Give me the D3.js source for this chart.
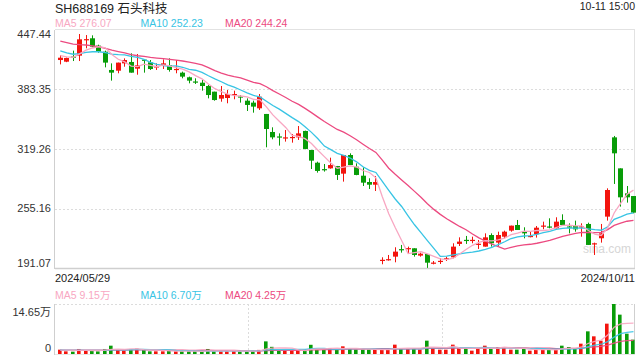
<!DOCTYPE html>
<html><head><meta charset="utf-8">
<script src="https://cdn.jsdelivr.net/npm/d3@7/dist/d3.min.js"></script>
<style>
body{margin:0;background:#fff}
svg{display:block}
text{font-family:"Liberation Sans",Arial,"Noto Sans CJK SC",sans-serif}
</style>
</head><body>
<svg id="chart" width="640" height="360"></svg>
<script>
const title = "SH688169 石头科技";
const timeLabel = "10-11 15:00";
const dateLabels = ["2024/05/29", "2024/10/11"];
const priceTicks = [447.44, 383.35, 319.26, 255.16, 191.07];
const volTicks = [14.65, 0];
const volTickLabels = ["14.65万", "0"];
const maNames = ["MA5", "MA10", "MA20"];
const maPeriods = [5, 10, 20];
const maPriceText = ["276.07", "252.23", "244.24"];
const maVolText = ["9.15万", "6.70万", "4.25万"];
const watermark = "sina.com";

const open = [415.1,413.3,418.9,419.8,436.5,438.5,430.6,424.1,404.4,403.6,
411.5,413.0,405.8,415.5,412.6,407.8,409.7,409.7,404.8,401.5,
396.5,392.0,390.7,387.1,381.0,373.5,374.2,378.0,375.9,371.3,
369.2,363.1,357.0,337.6,332.8,331.4,331.6,331.8,338.7,318.2,
304.5,297.6,298.4,300.9,292.7,312.8,300.2,290.5,283.7,280.8,
199.4,200.2,203.3,211.4,212.0,212.3,204.4,206.2,196.6,198.4,
201.2,202.6,217.0,221.4,221.0,216.7,214.1,226.6,218.4,224.8,
231.3,237.4,230.9,224.8,227.4,236.3,235.8,233.8,242.8,235.8,
236.3,235.5,238.5,217.2,223.1,246.4,331.8,298.4,271.5,268.6];
const close = [417.6,417.3,418.5,437.4,437.6,429.5,424.1,412.3,401.5,412.3,
415.1,401.5,409.4,414.8,405.4,408.3,411.5,404.4,405.5,397.2,
392.9,391.6,387.1,377.4,372.0,377.4,378.5,378.5,375.4,366.7,
364.9,375.6,340.8,331.8,332.5,331.8,332.2,336.1,319.3,306.7,
295.6,297.3,302.0,291.3,312.8,302.0,291.3,283.0,280.8,283.7,
199.9,200.6,208.7,210.9,212.5,205.1,206.5,196.8,196.9,198.8,
201.6,214.1,219.5,221.0,221.4,217.2,224.1,217.7,226.6,230.2,
236.7,232.0,228.4,225.6,234.5,236.8,235.6,241.0,237.4,235.6,
232.7,236.0,215.9,217.7,228.4,275.1,314.6,267.2,267.2,250.7];
const high = [420.2,417.8,425.2,443.1,442.0,441.7,431.6,425.2,411.5,412.3,
416.9,422.3,421.6,415.8,415.1,411.5,415.8,416.9,415.1,402.6,
397.2,395.4,393.6,388.2,381.0,387.1,382.8,382.1,377.4,373.8,
371.3,378.5,357.0,342.6,336.1,339.7,335.4,344.0,339.0,318.2,
305.6,303.1,309.9,301.0,312.8,314.6,303.8,299.5,287.7,290.2,
202.6,205.1,213.4,215.9,214.1,212.3,207.6,206.2,198.6,201.5,
203.3,217.7,224.1,225.6,224.8,221.2,228.4,228.4,230.2,231.3,
236.7,242.8,234.9,230.2,236.3,241.0,244.6,245.7,248.9,239.2,
242.1,239.2,239.9,218.4,238.5,276.9,333.3,298.4,279.4,268.6];
const low = [410.4,412.8,414.0,414.0,427.7,428.8,423.0,407.2,392.9,400.8,
407.9,401.5,399.3,401.5,404.4,404.4,405.4,402.6,400.8,395.4,
390.0,389.3,382.1,373.8,371.3,370.2,368.5,372.8,369.2,360.2,
358.4,361.3,321.1,329.7,322.9,327.2,326.1,329.0,319.0,297.7,
293.8,294.9,298.0,285.9,284.1,302.0,291.0,279.4,276.2,274.0,
195.1,199.0,197.2,207.6,206.9,203.3,203.3,191.2,195.0,195.4,
198.6,201.5,214.8,217.0,217.7,211.6,214.1,214.1,214.8,223.0,
230.2,232.0,223.0,224.1,223.8,232.8,233.8,233.8,236.3,228.4,
230.2,224.8,215.9,205.1,218.4,242.1,281.6,257.2,261.5,250.0];
// volume in 万 (10k shares)
const volume = [1.27,0.78,0.68,1.47,0.98,1.07,0.78,1.47,2.44,1.17,
0.98,1.47,1.56,1.27,0.78,0.78,0.78,0.98,0.78,0.78,
0.78,0.78,0.78,1.47,0.78,0.78,0.78,0.98,0.78,0.78,
0.90,1.20,3.70,2.10,0.90,1.00,1.00,1.00,1.20,2.70,
1.40,1.27,1.76,1.27,2.25,1.56,1.27,1.27,1.27,1.27,
1.27,1.27,2.74,1.56,1.56,1.56,1.27,3.91,1.76,1.27,
1.27,2.74,1.76,1.56,0.98,1.76,2.44,1.56,2.05,2.05,
1.27,1.27,1.56,0.98,1.27,1.27,1.27,1.27,2.44,2.05,
1.56,3.03,6.64,5.18,3.91,8.89,14.65,11.53,5.96,4.20];
// estimated closes / volumes of the 19 sessions before the first visible one (for the moving averages)
const priorCloses = [450,452,448,445,447,444,446,443,441,444,438,434,430,426,422,424,421,419,418];
const priorVolumes = [1.2,1.1,1.3,1.2,1.0,1.1,1.2,1.3,1.1,1.0,1.2,1.1,1.3,1.2,1.1,1.0,1.2,1.1,1.2];

const colors = { up: "#f3140e", down: "#089c08", ma: ["#f8a7c2", "#38c4e4", "#ec4a80"],
  text: "#333", axis: "#cfcfcf", grid: "#dcdcdc" };

const svg = d3.select("#chart");
const n = close.length;
const L = 55, R = 635, pTop = 30, pBot = 268, vTop = 304, vBot = 354;

const x = d3.scaleBand().domain(d3.range(n)).range([57.1, 636.7]).padding(0);
const bw = x.bandwidth();
const cx = i => Math.round(x(i) + bw / 2 - 0.5) + 0.5;
const y = d3.scaleLinear().domain([priceTicks[4], priceTicks[0]]).range([pBot, pTop]);
const yv = d3.scaleLinear().domain([0, volTicks[0]]).range([vBot, vTop]);

function movingAvg(prior, vals, p) {
  const full = prior.concat(vals), off = prior.length;
  return vals.map((_, i) => d3.mean(full.slice(off + i - p + 1, off + i + 1)));
}

// ---- header ----
svg.append("text").attr("x", 55).attr("y", 13).attr("font-size", 12.5).attr("fill", "#222").text(title);
svg.append("text").attr("x", 635).attr("y", 10).attr("text-anchor", "end").attr("font-size", 10.5).attr("fill", "#222").text(timeLabel);
const legendX = [55, 140.5, 225];
maNames.forEach((m, k) => {
  svg.append("text").attr("x", legendX[k]).attr("y", 27).attr("font-size", 10.5)
    .attr("fill", colors.ma[k]).text(m + " " + maPriceText[k]);
  svg.append("text").attr("x", legendX[k]).attr("y", 298.5).attr("font-size", 10.5)
    .attr("fill", colors.ma[k]).text(m + " " + maVolText[k]);
});

// ---- price panel frame & grid ----
const g = svg.append("g");
priceTicks.slice(1, 4).forEach(t => {
  g.append("line").attr("x1", L).attr("x2", R).attr("y1", Math.round(y(t)) + 0.5).attr("y2", Math.round(y(t)) + 0.5)
    .attr("stroke", colors.grid).attr("stroke-dasharray", "2,2");
});
g.append("line").attr("x1", L).attr("x2", R).attr("y1", pTop - 0.5).attr("y2", pTop - 0.5).attr("stroke", "#e2e2e2");
g.append("line").attr("x1", R - 0.5).attr("x2", R - 0.5).attr("y1", pTop).attr("y2", pBot).attr("stroke", "#e2e2e2");
g.append("line").attr("x1", L - 0.5).attr("x2", L - 0.5).attr("y1", pTop).attr("y2", pBot + 1).attr("stroke", colors.axis);
g.append("line").attr("x1", L).attr("x2", R).attr("y1", pBot + 0.5).attr("y2", pBot + 0.5).attr("stroke", colors.axis).attr("stroke-width", 1.5);

priceTicks.forEach((t, k) => {
  const off = k === 0 ? 8.3 : (k === priceTicks.length - 1 ? -0.8 : 3.8);
  svg.append("text").attr("x", 51).attr("y", y(t) + off).attr("text-anchor", "end")
    .attr("font-size", 11).attr("fill", colors.text).text(t.toFixed(2));
});
svg.append("text").attr("x", 55).attr("y", 281.5).attr("font-size", 11).attr("fill", "#222").text(dateLabels[0]);
svg.append("text").attr("x", 635).attr("y", 281.5).attr("text-anchor", "end").attr("font-size", 11).attr("fill", "#222").text(dateLabels[1]);

svg.append("text").attr("x", 583).attr("y", 253).attr("font-size", 12).attr("fill", "#d6d6d6").text(watermark);

// ---- candles ----
const cg = svg.append("g");
d3.range(n).forEach(i => {
  const up = close[i] >= open[i];
  const col = up ? colors.up : colors.down;
  const xc = cx(i);
  cg.append("line").attr("x1", xc).attr("x2", xc).attr("y1", y(high[i])).attr("y2", y(low[i]))
    .attr("stroke", col).attr("stroke-width", 1);
  const yt = y(Math.max(open[i], close[i])), yb = y(Math.min(open[i], close[i]));
  cg.append("rect").attr("x", xc - 2.5).attr("width", 5).attr("y", yt)
    .attr("height", Math.max(1.2, yb - yt)).attr("fill", col);
});

// ---- price MAs ----
const lineGen = (ys) => d3.line().x((d, i) => x(i) + bw / 2).y(d => ys(d)).curve(d3.curveLinear);
[2, 1, 0].forEach(k => {
  const ma = movingAvg(priorCloses, close, maPeriods[k]);
  svg.append("path").datum(ma).attr("d", lineGen(y)).attr("fill", "none")
    .attr("stroke", colors.ma[k]).attr("stroke-width", 1.3);
});

// ---- volume panel ----
const vg = svg.append("g");
vg.append("line").attr("x1", L).attr("x2", R).attr("y1", vTop + 0.5).attr("y2", vTop + 0.5)
  .attr("stroke", colors.grid).attr("stroke-dasharray", "2,2");
[30, 60].forEach(i => {
  const xv = Math.round(x(i)) - 1.5;
  vg.append("line").attr("x1", xv).attr("x2", xv).attr("y1", vTop).attr("y2", vBot)
    .attr("stroke", colors.grid).attr("stroke-dasharray", "2,2");
});
vg.append("line").attr("x1", L - 0.5).attr("x2", L - 0.5).attr("y1", vTop).attr("y2", vBot + 1).attr("stroke", colors.axis);
vg.append("line").attr("x1", R - 0.5).attr("x2", R - 0.5).attr("y1", vTop).attr("y2", vBot + 1).attr("stroke", colors.axis);
vg.append("line").attr("x1", L).attr("x2", R).attr("y1", vBot + 0.5).attr("y2", vBot + 0.5).attr("stroke", "#e6e6e6");

volTicks.forEach((t, k) => {
  svg.append("text").attr("x", 51).attr("y", k === 0 ? 315.5 : 351.5).attr("text-anchor", "end")
    .attr("font-size", 11).attr("fill", colors.text).text(volTickLabels[k]);
});

d3.range(n).forEach(i => {
  const up = close[i] >= open[i];
  vg.append("rect").attr("x", cx(i) - 2.5).attr("width", 3.6)
    .attr("y", yv(volume[i])).attr("height", vBot - yv(volume[i]))
    .attr("fill", up ? colors.up : colors.down);
});
[2, 1, 0].forEach(k => {
  const ma = movingAvg(priorVolumes, volume, maPeriods[k]);
  svg.append("path").datum(ma).attr("d", lineGen(yv)).attr("fill", "none")
    .attr("stroke", colors.ma[k]).attr("stroke-width", 1.3).attr("opacity", 0.9);
});
</script>
</body></html>
